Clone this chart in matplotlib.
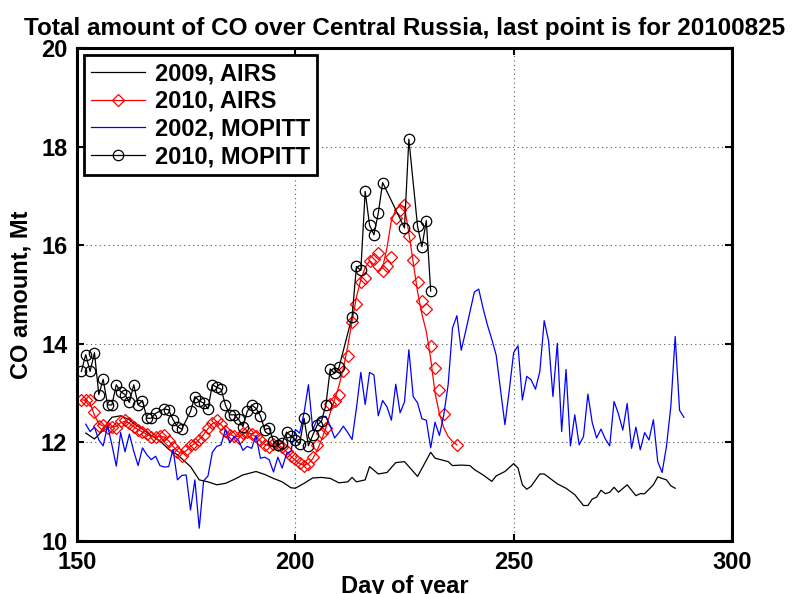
import matplotlib
matplotlib.use("Agg")
import matplotlib.pyplot as plt

# Arial-like bold text, as in the MATLAB original
plt.rcParams["font.family"] = ["Liberation Sans", "DejaVu Sans"]
plt.rcParams["font.weight"] = "bold"

# 2009, AIRS
days_airs09 = [152, 154, 156, 157, 158, 160, 162, 163, 165, 167, 169, 171, 173, 176, 178, 180,
               182, 184, 186, 188, 191, 193, 195, 197, 199, 200, 202, 204, 206, 208, 210, 212,
               213, 214, 216, 217, 219, 221, 223, 225, 228, 231, 232, 235, 236, 238, 240, 241,
               243, 245, 246, 248, 250, 251, 252, 253, 254, 256, 257, 260, 262, 264, 266, 267,
               268, 269, 270, 271, 272, 273, 274, 276, 277, 278, 279, 280, 282, 283, 285, 286, 287]
co_airs09 = [12.19, 12.07, 12.25, 12.40, 12.51, 12.54, 12.46, 12.38, 12.27, 12.14, 12.03, 11.86,
             11.75, 11.51, 11.24, 11.20, 11.14, 11.17, 11.25, 11.34, 11.41, 11.35, 11.27, 11.20,
             11.08, 11.07, 11.17, 11.28, 11.29, 11.27, 11.18, 11.20, 11.29, 11.20, 11.24, 11.51,
             11.36, 11.39, 11.59, 11.61, 11.31, 11.80, 11.68, 11.61, 11.53, 11.54, 11.53, 11.45,
             11.34, 11.21, 11.32, 11.41, 11.57, 11.48, 11.14, 11.05, 11.11, 11.36, 11.36, 11.16,
             11.07, 10.94, 10.72, 10.72, 10.85, 10.89, 11.03, 10.96, 10.99, 11.09, 10.99, 11.14,
             11.03, 10.92, 10.96, 10.96, 11.14, 11.30, 11.24, 11.12, 11.07]

# 2010, AIRS - smoothed curve
days_airs10_line = list(range(151, 238))
co_airs10_line = [12.86, 12.86, 12.80, 12.55, 12.38, 12.33, 12.31, 12.31, 12.33, 12.40,
                  12.43, 12.39, 12.32, 12.26, 12.21, 12.16, 12.12, 12.11, 12.12, 12.11,
                  12.03, 11.92, 11.82, 11.78, 11.83, 11.92, 11.98, 12.06, 12.16, 12.28,
                  12.38, 12.42, 12.36, 12.25, 12.17, 12.12, 12.12, 12.17, 12.20, 12.17,
                  12.11, 12.03, 11.96, 11.93, 11.95, 11.95, 11.90, 11.81, 11.72, 11.64,
                  11.57, 11.54, 11.57, 11.67, 11.84, 12.05, 12.30, 12.60, 12.87, 13.15,
                  13.50, 13.95, 14.45, 14.95, 15.30, 15.55, 15.68, 15.55, 15.45, 15.55,
                  15.95, 16.50, 16.72, 16.80, 16.78, 16.25, 15.65, 15.05, 14.60, 14.25,
                  13.70, 13.00, 12.58, 12.30, 12.12, 12.02, 11.95]

# 2010, AIRS - daily values (diamonds)
days_airs10 = list(range(151, 235)) + [237]
co_airs10 = [12.86, 12.86, 12.86, 12.62, 12.33, 12.36, 12.29, 12.32, 12.29, 12.44,
             12.46, 12.39, 12.32, 12.26, 12.22, 12.17, 12.11, 12.11, 12.13, 12.15,
             12.02, 11.90, 11.80, 11.73, 11.85, 11.95, 11.97, 12.05, 12.15, 12.29,
             12.39, 12.46, 12.38, 12.24, 12.16, 12.12, 12.09, 12.20, 12.22, 12.18,
             12.12, 12.05, 11.95, 11.90, 11.97, 11.95, 11.90, 11.82, 11.72, 11.66,
             11.58, 11.52, 11.56, 11.70, 11.95, 12.20, 12.29, 12.78, 12.85, 12.97,
             13.45, 13.75, 14.45, 14.80, 15.25, 15.33, 15.67, 15.72, 15.84, 15.48,
             15.58, 15.77, 16.55, 16.72, 16.82, 16.18, 15.70, 15.25, 14.86, 14.70,
             13.95, 13.51, 13.07, 12.58, 11.95]

# 2002, MOPITT
days_mop02 = list(range(152, 290))
co_mop02 = [12.37, 12.22, 12.31, 12.05, 11.93, 12.34, 11.95, 11.52, 12.20, 11.81,
            12.17, 11.82, 11.53, 11.89, 11.75, 11.65, 11.72, 11.53, 11.50, 11.51,
            11.86, 11.24, 11.33, 11.34, 10.63, 11.24, 10.26, 11.22, 11.32, 11.80,
            11.92, 11.95, 12.27, 11.99, 12.12, 12.04, 11.84, 11.92, 11.88, 12.14,
            11.68, 11.70, 11.65, 11.40, 11.70, 11.48, 11.78, 11.82, 12.26, 12.19,
            12.60, 13.17, 12.26, 12.46, 12.50, 12.53, 12.33, 12.09, 12.20, 12.33,
            12.20, 12.06, 12.70, 13.42, 12.77, 13.42, 13.37, 12.54, 12.85, 12.72,
            12.45, 13.18, 12.60, 12.82, 13.88, 12.93, 12.80, 12.48, 12.45, 11.89,
            12.41, 12.14, 12.56, 13.17, 14.32, 14.57, 13.87, 14.25, 14.65, 15.05,
            15.11, 14.72, 14.38, 14.09, 13.77, 13.06, 12.36, 13.06, 13.82, 13.96,
            12.86, 13.34, 13.27, 13.08, 13.44, 14.47, 14.06, 12.93, 14.01, 12.22,
            13.48, 11.93, 12.56, 11.95, 12.12, 12.98, 12.40, 12.09, 12.27, 12.07,
            11.93, 12.83, 12.58, 12.25, 12.79, 11.88, 12.31, 11.85, 12.20, 12.05,
            12.46, 11.61, 11.39, 11.92, 12.73, 14.15, 12.65, 12.51]

# 2010, MOPITT
days_mop10 = [151, 152, 153, 154, 155, 156, 157, 158, 159, 160, 161, 162, 163, 164, 165,
              166, 167, 168, 170, 171, 172, 173, 174, 176, 177, 178, 179, 180, 181, 182,
              183, 184, 185, 186, 187, 188, 189, 190, 191, 192, 193, 194, 195, 196, 197,
              198, 199, 200, 201, 202, 203, 204, 205, 206, 207, 208, 209, 210, 213, 214,
              215, 216, 217, 218, 219, 220, 225, 226, 228, 229, 230, 231]
co_mop10 = [13.44, 13.78, 13.44, 13.82, 12.97, 13.28, 12.76, 12.76, 13.17, 13.03, 12.97,
            12.81, 13.17, 12.76, 12.85, 12.49, 12.49, 12.59, 12.68, 12.66, 12.46, 12.32,
            12.27, 12.63, 12.93, 12.84, 12.80, 12.68, 13.17, 13.12, 13.08, 12.76, 12.56,
            12.56, 12.47, 12.32, 12.63, 12.76, 12.69, 12.54, 12.26, 12.29, 12.02, 11.95,
            11.99, 12.21, 12.13, 12.05, 11.97, 12.49, 11.93, 12.15, 12.35, 12.43, 12.76,
            13.49, 13.40, 13.52, 14.55, 15.57, 15.49, 17.09, 16.41, 16.21, 16.65, 17.27,
            16.35, 18.15, 16.38, 15.97, 16.50, 15.07]

fig = plt.figure(figsize=(7.97, 5.94), dpi=100)
ax = fig.add_axes([0.0966, 0.0892, 0.8218, 0.83])

l09, = ax.plot(days_airs09, co_airs09, color="black", lw=0.9)
l10, = ax.plot(days_airs10_line, co_airs10_line, color="red", lw=0.9)
d10, = ax.plot(days_airs10, co_airs10, ls="none", marker="D", ms=6.5, mfc="none",
               mec="red", mew=0.9)
l02, = ax.plot(days_mop02, co_mop02, color="blue", lw=0.9)
lm10, = ax.plot(days_mop10, co_mop10, color="black", lw=0.9, marker="o", ms=7.5,
                mfc="none", mec="black", mew=0.9)

ax.set_xlim(150, 300)
ax.set_ylim(10, 20)
ax.set_xticks([150, 200, 250, 300])
ax.set_yticks([10, 12, 14, 16, 18, 20])
ax.grid(True, color="0.35", linestyle=(0, (1, 3)), linewidth=0.8)
ax.tick_params(direction="in", length=5, width=1.5, top=True, right=True,
               labelsize=17, pad=7)
for sp in ax.spines.values():
    sp.set_linewidth(2.2)

ax.set_title("Total amount of CO over Central Russia, last point is for 20100825",
             fontsize=17.5, fontweight="bold", pad=9)
ax.set_xlabel("Day of year", fontsize=17, fontweight="bold", labelpad=1)
ax.set_ylabel("CO amount, Mt", fontsize=17, fontweight="bold", labelpad=6)

leg = ax.legend([l09, (l10, d10), l02, lm10],
                ["2009, AIRS", "2010, AIRS", "2002, MOPITT", "2010, MOPITT"],
                loc="upper left", fontsize=17, frameon=True, fancybox=False,
                framealpha=1, edgecolor="black", handlelength=2.3,
                borderaxespad=0.3, labelspacing=0.2, borderpad=0.3,
                handletextpad=0.4)
leg.get_frame().set_linewidth(2.0)

fig.savefig("out.png", dpi=100)
